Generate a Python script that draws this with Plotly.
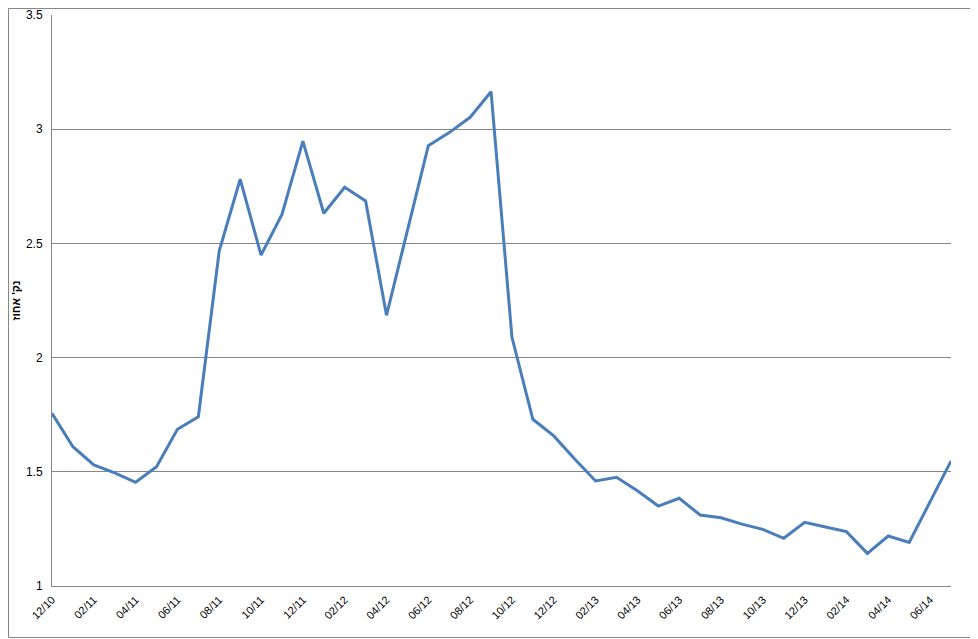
import plotly.graph_objects as go

# monthly series, 12/10 .. 07/14
months = [
    "12/10", "01/11", "02/11", "03/11", "04/11", "05/11", "06/11", "07/11",
    "08/11", "09/11", "10/11", "11/11", "12/11", "01/12", "02/12", "03/12",
    "04/12", "05/12", "06/12", "07/12", "08/12", "09/12", "10/12", "11/12",
    "12/12", "01/13", "02/13", "03/13", "04/13", "05/13", "06/13", "07/13",
    "08/13", "09/13", "10/13", "11/13", "12/13", "01/14", "02/14", "03/14",
    "04/14", "05/14", "06/14", "07/14",
]
values = [
    1.756, 1.610, 1.530, 1.495, 1.454, 1.522, 1.686, 1.741,
    2.468, 2.781, 2.449, 2.627, 2.948, 2.632, 2.746, 2.686,
    2.185, 2.560, 2.928, 2.985, 3.052, 3.164, 2.089, 1.730,
    1.657, 1.556, 1.460, 1.476, 1.417, 1.350, 1.384, 1.311,
    1.299, 1.271, 1.248, 1.209, 1.279, 1.258, 1.238, 1.143,
    1.219, 1.191, 1.369, 1.547,
]
tick_labels = months[::2]
y_ticks = [1, 1.5, 2, 2.5, 3, 3.5]
y_tick_text = ["1", "1.5", "2", "2.5", "3", "3.5"]
y_title = "נק' אחוז"

grid_color = "#868686"

# page body adds an 8px margin, so the figure is drawn 8px smaller
W, H = 970, 631
ML, MR, MT, MB = 44, 27, 7, 53
PW, PH = W - ML - MR, H - MT - MB

fig = go.Figure()
fig.add_trace(go.Scatter(
    x=months,
    y=values,
    mode="lines",
    line=dict(color="#4A7EBB", width=3),
    showlegend=False,
))

fig.update_layout(
    width=W,
    height=H,
    margin=dict(l=ML, r=MR, t=MT, b=MB),
    paper_bgcolor="white",
    plot_bgcolor="white",
    font=dict(family="Arial, Liberation Sans, sans-serif", size=11, color="black"),
    xaxis=dict(
        type="category",
        categoryorder="array",
        categoryarray=months,
        range=[0, len(months) - 1],
        tickmode="array",
        tickvals=tick_labels,
        ticktext=tick_labels,
        tickangle=-45,
        showgrid=False,
        showline=True,
        linecolor=grid_color,
        linewidth=1,
        ticks="",
        ticklabelstandoff=2,
        zeroline=False,
        automargin=False,
        tickfont=dict(size=11),
    ),
    yaxis=dict(
        range=[1, 3.5],
        tickmode="array",
        tickvals=y_ticks,
        ticktext=y_tick_text,
        showgrid=True,
        gridcolor=grid_color,
        gridwidth=1,
        showline=True,
        linecolor=grid_color,
        linewidth=1,
        ticks="",
        ticklabelstandoff=6,
        zeroline=False,
        automargin=False,
        tickfont=dict(size=12),
        title=dict(text=f"<b>{y_title}</b>", font=dict(size=11), standoff=3),
    ),
)

# chart-area border
fig.add_shape(
    type="rect", xref="paper", yref="paper",
    x0=-(ML - 0.5) / PW, x1=(PW + MR - 1.5) / PW,
    y0=-(MB - 1.5) / PH, y1=(PH + MT - 0.5) / PH,
    line=dict(color=grid_color, width=1), fillcolor="rgba(0,0,0,0)",
    layer="below",
)

fig.write_html("out.html")
